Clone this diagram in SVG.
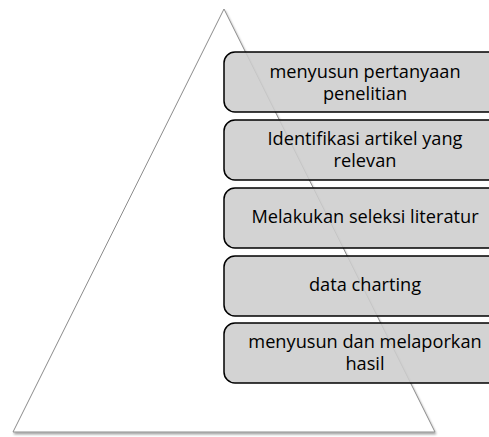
<svg xmlns="http://www.w3.org/2000/svg" width="489" height="437" viewBox="0 0 489 437">
<style>
.box{fill:#cdcdcd;fill-opacity:0.88;stroke:#000;stroke-width:1.5}
.t{font-family:"Open Sans","Liberation Sans",sans-serif;font-size:18.2px;fill:#000;text-anchor:middle}
</style>
<defs>
<filter id="sh" x="-10%" y="-10%" width="120%" height="120%">
<feDropShadow dx="1" dy="2" stdDeviation="1.2" flood-color="#000" flood-opacity="0.35"/>
</filter>
</defs>
<g id="triangle">
<polygon points="224,9 435,432 13,432" fill="#fff" stroke="#8c8c8c" stroke-width="1" filter="url(#sh)"/>
</g>
<g id="connectors"></g>
<g id="n1"><rect class="box" x="224" y="52" width="282" height="60" rx="11"/>
<text class="t" x="365" y="78">menyusun pertanyaan</text><text class="t" x="365" y="100">penelitian</text></g>
<g id="n2"><rect class="box" x="224" y="120" width="282" height="60" rx="11"/>
<text class="t" x="365" y="145">Identifikasi artikel yang</text><text class="t" x="365" y="167">relevan</text></g>
<g id="n3"><rect class="box" x="224" y="188" width="282" height="60" rx="11"/>
<text class="t" x="365" y="223">Melakukan seleksi literatur</text></g>
<g id="n4"><rect class="box" x="224" y="256" width="282" height="60" rx="11"/>
<text class="t" x="365" y="291">data charting</text></g>
<g id="n5"><rect class="box" x="224" y="323" width="282" height="60" rx="11"/>
<text class="t" x="365" y="348">menyusun dan melaporkan</text><text class="t" x="365" y="370">hasil</text></g>
</svg>
